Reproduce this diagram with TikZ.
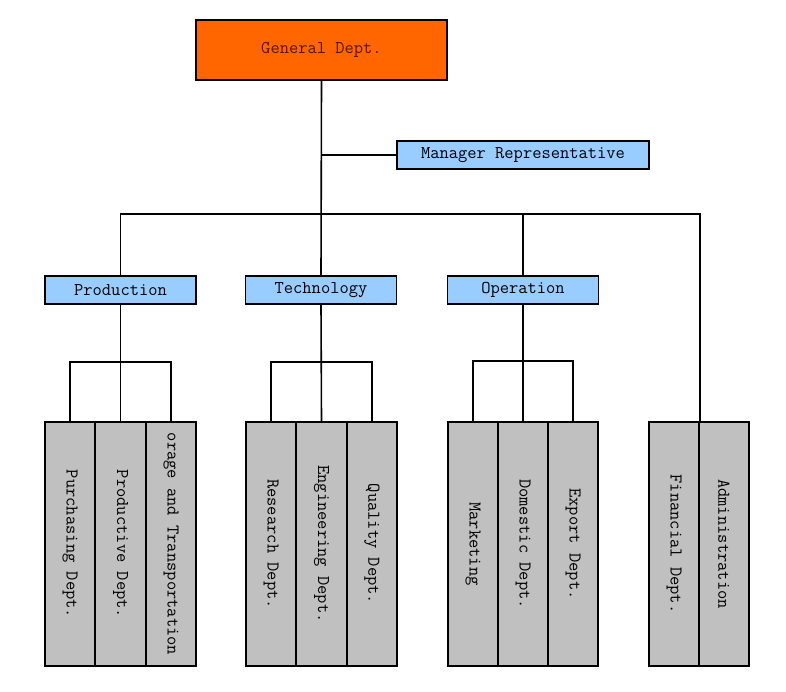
\documentclass[tikz,border=0pt]{standalone}
\usepackage{fontspec}
\usepackage{graphicx}
\definecolor{genorange}{RGB}{255,102,0}
\definecolor{gentext}{RGB}{90,20,10}
\definecolor{unitblue}{RGB}{153,204,255}
\definecolor{colgray}{RGB}{192,192,192}
\tikzset{
  chart/.style={x=1pt,y=-1pt,line width=1.6pt,
    font=\fontsize{18}{20}\selectfont\ttfamily},
  genbox/.style={draw,fill=genorange,text=gentext,minimum width=251pt,
    minimum height=60pt,inner sep=0pt},
  unitbox/.style={draw,fill=unitblue,minimum width=151pt,
    minimum height=28pt,inner sep=0pt},
  deptcol/.style={draw,fill=colgray,minimum width=50.5pt,
    minimum height=244pt,inner sep=0pt},
}
\begin{document}
\begin{tikzpicture}[chart]
\useasboundingbox (0,0) rectangle (786,692);
% ---------- top ----------
\node[genbox] (gen) at (321.5,50) {General Dept.};
\node[unitbox,minimum width=252pt] (mgr) at (523,155) {Manager Representative};
% ---------- units ----------
\node[unitbox] (prod) at (120.5,290) {Production};
\node[unitbox] (tech) at (321,290) {Technology};
\node[unitbox] (oper) at (523,290) {Operation};
% ---------- department columns ----------
\node[deptcol] (pur) at (70,544) {\rotatebox{-90}{Purchasing Dept.}};
\node[deptcol] (pdv) at (120.5,544) {\rotatebox{-90}{Productive Dept.}};
\node[deptcol] (sto) at (171,544) {\rotatebox{-90}{orage and Transportation}};
\node[deptcol] (res) at (271,544) {\rotatebox{-90}{Research Dept.}};
\node[deptcol] (engd) at (321.5,544) {\rotatebox{-90}{Engineering Dept.}};
\node[deptcol] (qua) at (372,544) {\rotatebox{-90}{Quality Dept.}};
\node[deptcol] (mkt) at (473,544) {\rotatebox{-90}{Marketing}};
\node[deptcol] (dom) at (523,544) {\rotatebox{-90}{Domestic Dept.}};
\node[deptcol] (exp) at (573,544) {\rotatebox{-90}{Export Dept.}};
\node[deptcol] (fin) at (674,544) {\rotatebox{-90}{Financial Dept.}};
\node[deptcol] (adm) at (724,544) {\rotatebox{-90}{Administration}};
% ---------- trunk and bus ----------
\coordinate (bus) at (321.5,214);
\draw (gen.south) -- (tech.north);
\draw (mgr.west) -- (mgr.west -| gen.south);
\draw (prod.north) |- (bus) -| (fin.north east);
\draw (bus -| oper.north) -- (oper.north);
% ---------- unit to columns ----------
\draw (prod.south) -- (pdv.north);
\draw (pur.north) -- ++(0,-59) -| (sto.north);
\draw (tech.south) -- (engd.north);
\draw (res.north) -- ++(0,-59) -| (qua.north);
\draw (oper.south) -- (dom.north);
\draw (mkt.north) -- ++(0,-60) -| (exp.north);
\end{tikzpicture}
\end{document}
